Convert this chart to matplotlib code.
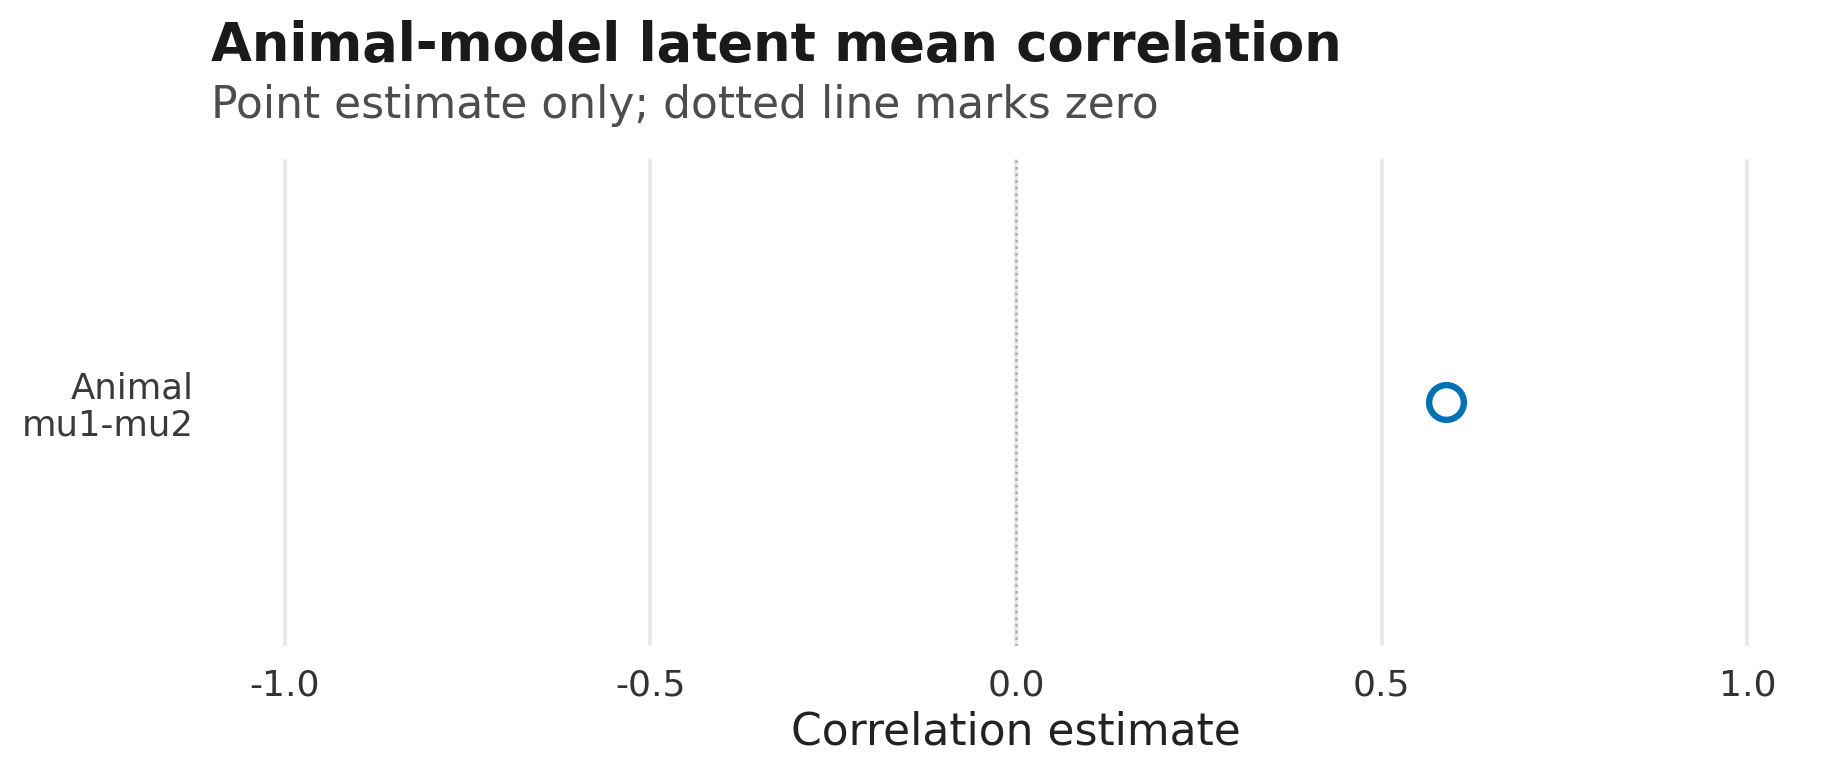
import matplotlib.pyplot as plt

# data
labels = ["Animal\nmu1-mu2"]
estimates = [0.588]
xticks = [-1.0, -0.5, 0.0, 0.5, 1.0]
xtick_labels = ["-1.0", "-0.5", "0.0", "0.5", "1.0"]

fig = plt.figure(figsize=(9.215, 3.885), dpi=200)
ax = fig.add_axes([0.1346, 0.1686, 0.8334, 0.6268])

# grid lines and zero reference
for x in xticks:
    ax.axvline(x, color="#e8e8e8", lw=1.3, zorder=0)
ax.axvline(0, color="#aaaaaa", lw=0.9, ls=":", zorder=1)

ypos = list(range(len(labels)))
ax.plot(estimates, ypos, "o", ms=12.5, mfc="white", mec="#0072B2", mew=2.3, zorder=3)

ax.set_xlim(-1.05, 1.05)
ax.set_ylim(-0.5, 0.5)
ax.set_xticks(xticks)
ax.set_xticklabels(xtick_labels, fontsize=13, color="#333333")
ax.set_yticks(ypos)
ax.set_yticklabels(labels, fontsize=12.8, color="#3a3a3a", linespacing=1.1)
ax.tick_params(axis="x", length=0, pad=8)
ax.tick_params(axis="y", length=0, pad=19.5)
ax.set_xlabel("Correlation estimate", fontsize=15.85, color="#222222", labelpad=3)
for s in ax.spines.values():
    s.set_visible(False)

fig.text(0.1145, 0.921, "Animal-model latent mean correlation", fontsize=19,
         fontweight="bold", color="#1a1a1a", va="baseline")
fig.text(0.1145, 0.848, "Point estimate only; dotted line marks zero", fontsize=15.85,
         color="#4d4d4d", va="baseline")

fig.savefig("out.png", dpi=200)
